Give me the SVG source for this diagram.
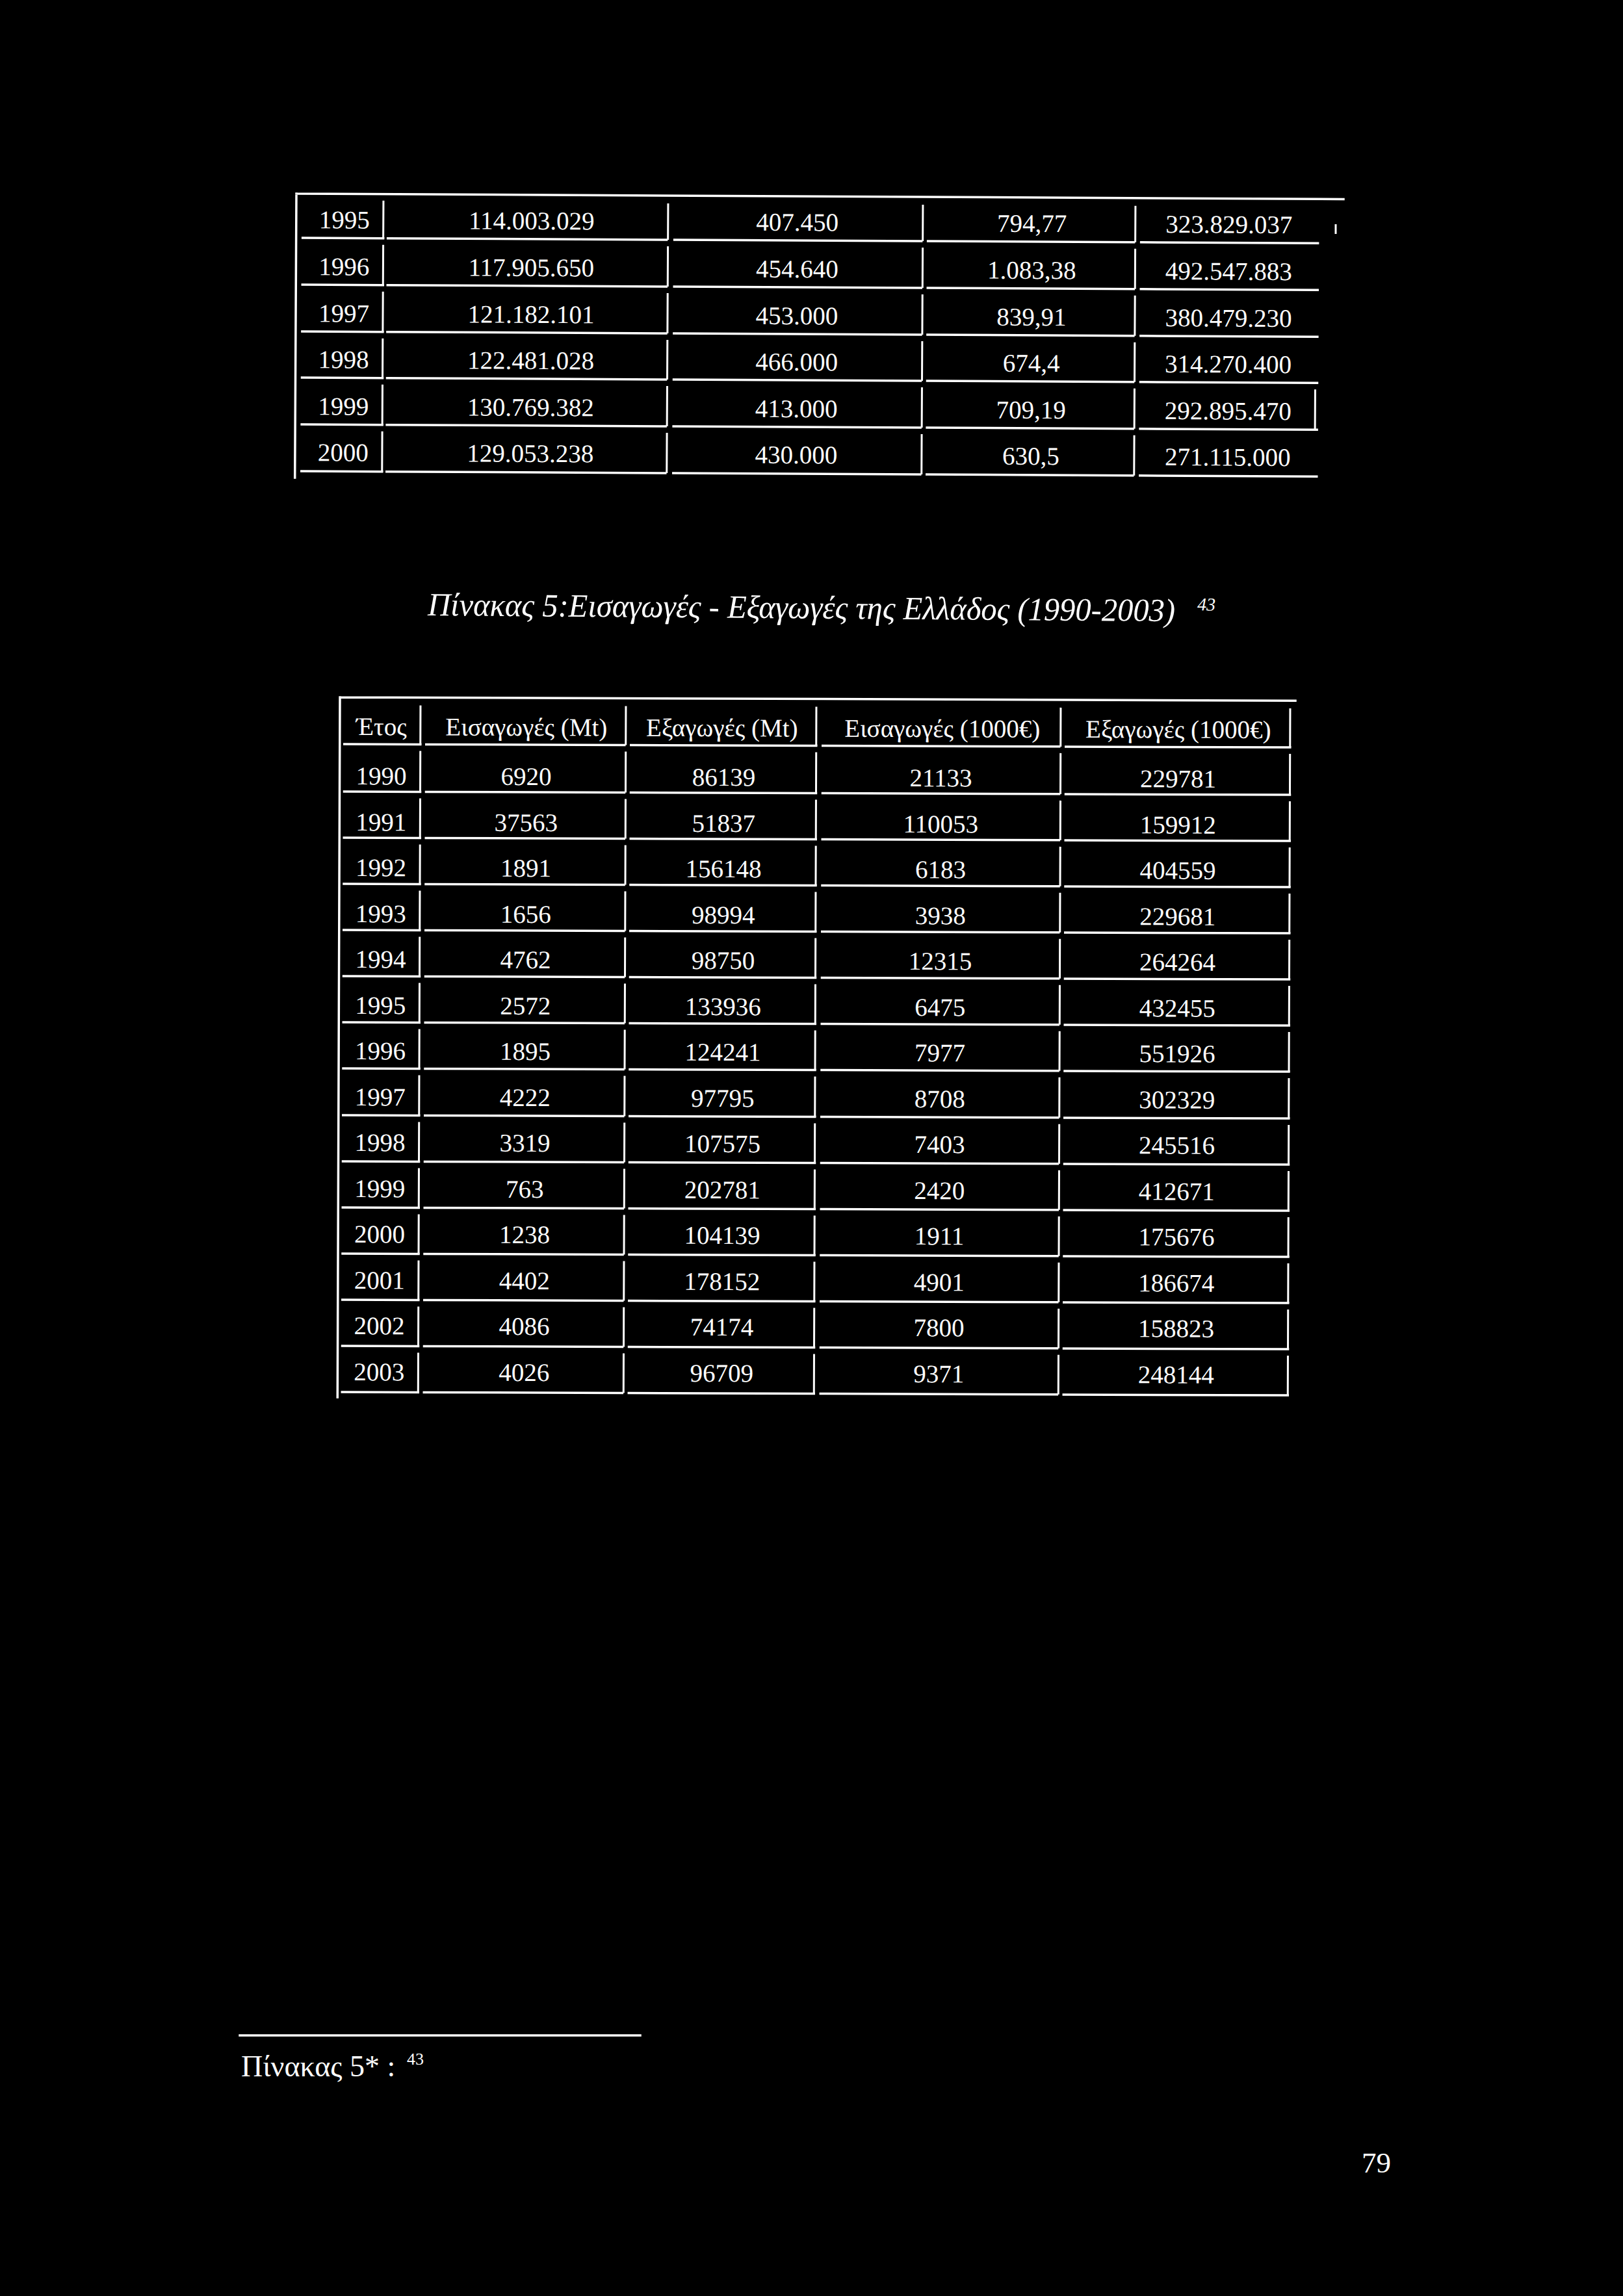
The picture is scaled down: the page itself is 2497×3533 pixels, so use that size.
<svg xmlns="http://www.w3.org/2000/svg" width="2497" height="3533" viewBox="0 0 2497 3533">
<style>
.t{font-family:"Liberation Serif","Times New Roman",serif;fill:#fff;font-size:39px;text-anchor:middle}
.ln{stroke:#fff;stroke-width:3.5;fill:none;stroke-linecap:square}
.vl{stroke:#fff;stroke-width:3;fill:none}
.it{font-family:"Liberation Serif","Times New Roman",serif;fill:#fff;font-style:italic}
.ft{font-family:"Liberation Serif","Times New Roman",serif;fill:#fff}
</style>
<rect x="0" y="0" width="2497" height="3533" fill="#000"/>

<g id="table1" transform="rotate(0.3 456 298)">
<g id="table1-lines">
<path class="ln" d="M456 298H2067M456 298V735"/>
<path class="vl" d="M590 308V366M1028 310V366M1420 310V366M1747 310V366"/>
<path class="ln" d="M466 366H590M597 366H1026M1038 366H1418M1428 366H1745M1756 366H2028"/>
<path class="vl" d="M590 376V438M1028 376V438M1420 376V438M1747 376V438"/>
<path class="ln" d="M466 438H590M597 438H1026M1038 438H1418M1428 438H1745M1756 438H2028"/>
<path class="vl" d="M590 448V510M1028 448V510M1420 448V510M1747 448V510"/>
<path class="ln" d="M466 510H590M597 510H1026M1038 510H1418M1428 510H1745M1756 510H2028"/>
<path class="vl" d="M590 520V581M1028 520V581M1420 520V581M1747 520V581"/>
<path class="ln" d="M466 581H590M597 581H1026M1038 581H1418M1428 581H1745M1756 581H2028"/>
<path class="vl" d="M590 591V653M1028 591V653M1420 591V653M1747 591V653M2025 591V653"/>
<path class="ln" d="M466 653H590M597 653H1026M1038 653H1418M1428 653H1745M1756 653H2028"/>
<path class="vl" d="M590 663V725M1028 663V725M1420 663V725M1747 663V725"/>
<path class="ln" d="M466 725H590M597 725H1026M1038 725H1418M1428 725H1745M1756 725H2028"/>
</g>
<g id="table1-text" class="t">
<text x="530" y="351">1995</text><text x="818" y="351">114.003.029</text><text x="1227" y="351">407.450</text><text x="1588" y="351">794,77</text><text x="1891" y="351">323.829.037</text>
<text x="530" y="423">1996</text><text x="818" y="423">117.905.650</text><text x="1227" y="423">454.640</text><text x="1588" y="423">1.083,38</text><text x="1891" y="423">492.547.883</text>
<text x="530" y="495">1997</text><text x="818" y="495">121.182.101</text><text x="1227" y="495">453.000</text><text x="1588" y="495">839,91</text><text x="1891" y="495">380.479.230</text>
<text x="530" y="566">1998</text><text x="818" y="566">122.481.028</text><text x="1227" y="566">466.000</text><text x="1588" y="566">674,4</text><text x="1891" y="566">314.270.400</text>
<text x="530" y="638">1999</text><text x="818" y="638">130.769.382</text><text x="1227" y="638">413.000</text><text x="1588" y="638">709,19</text><text x="1891" y="638">292.895.470</text>
<text x="530" y="709">2000</text><text x="818" y="709">129.053.238</text><text x="1227" y="709">430.000</text><text x="1588" y="709">630,5</text><text x="1891" y="709">271.115.000</text>
</g>
</g>
<path class="vl" d="M2055 345V360" stroke-width="2.5"/>

<g id="title" transform="rotate(0.45 658 947)">
<text class="it" x="658" y="947" font-size="50" textLength="1150" lengthAdjust="spacingAndGlyphs">Πίνακας 5:Εισαγωγές - Εξαγωγές της Ελλάδος (1990-2003)</text>
<text class="it" x="1842" y="930" font-size="28">43</text>
</g>

<g id="table2" transform="rotate(0.2 523 1073)">
<g id="table2-lines">
<path class="ln" d="M523 1073H1993M523 1073V2150"/>
<path class="vl" d="M647 1085V1145M963 1085V1145M1256 1085V1145M1632 1085V1145M1985 1085V1145"/>
<path class="ln" d="M530 1145H647M656 1145H961M971 1145H1256M1266 1145H1630M1640 1145H1985"/>
<path class="vl" d="M647 1155V1218M963 1155V1218M1256 1155V1218M1632 1155V1218M1985 1155V1218"/>
<path class="ln" d="M530 1218H647M656 1218H961M971 1218H1256M1266 1218H1630M1640 1218H1985"/>
<path class="vl" d="M647 1228V1289M963 1228V1289M1256 1228V1289M1632 1228V1289M1985 1228V1289"/>
<path class="ln" d="M530 1289H647M656 1289H961M971 1289H1256M1266 1289H1630M1640 1289H1985"/>
<path class="vl" d="M647 1299V1360M963 1299V1360M1256 1299V1360M1632 1299V1360M1985 1299V1360"/>
<path class="ln" d="M530 1360H647M656 1360H961M971 1360H1256M1266 1360H1630M1640 1360H1985"/>
<path class="vl" d="M647 1370V1431M963 1370V1431M1256 1370V1431M1632 1370V1431M1985 1370V1431"/>
<path class="ln" d="M530 1431H647M656 1431H961M971 1431H1256M1266 1431H1630M1640 1431H1985"/>
<path class="vl" d="M647 1441V1502M963 1441V1502M1256 1441V1502M1632 1441V1502M1985 1441V1502"/>
<path class="ln" d="M530 1502H647M656 1502H961M971 1502H1256M1266 1502H1630M1640 1502H1985"/>
<path class="vl" d="M647 1512V1573M963 1512V1573M1256 1512V1573M1632 1512V1573M1985 1512V1573"/>
<path class="ln" d="M530 1573H647M656 1573H961M971 1573H1256M1266 1573H1630M1640 1573H1985"/>
<path class="vl" d="M647 1583V1644M963 1583V1644M1256 1583V1644M1632 1583V1644M1985 1583V1644"/>
<path class="ln" d="M530 1644H647M656 1644H961M971 1644H1256M1266 1644H1630M1640 1644H1985"/>
<path class="vl" d="M647 1654V1716M963 1654V1716M1256 1654V1716M1632 1654V1716M1985 1654V1716"/>
<path class="ln" d="M530 1716H647M656 1716H961M971 1716H1256M1266 1716H1630M1640 1716H1985"/>
<path class="vl" d="M647 1726V1787M963 1726V1787M1256 1726V1787M1632 1726V1787M1985 1726V1787"/>
<path class="ln" d="M530 1787H647M656 1787H961M971 1787H1256M1266 1787H1630M1640 1787H1985"/>
<path class="vl" d="M647 1797V1858M963 1797V1858M1256 1797V1858M1632 1797V1858M1985 1797V1858"/>
<path class="ln" d="M530 1858H647M656 1858H961M971 1858H1256M1266 1858H1630M1640 1858H1985"/>
<path class="vl" d="M647 1868V1929M963 1868V1929M1256 1868V1929M1632 1868V1929M1985 1868V1929"/>
<path class="ln" d="M530 1929H647M656 1929H961M971 1929H1256M1266 1929H1630M1640 1929H1985"/>
<path class="vl" d="M647 1939V2000M963 1939V2000M1256 1939V2000M1632 1939V2000M1985 1939V2000"/>
<path class="ln" d="M530 2000H647M656 2000H961M971 2000H1256M1266 2000H1630M1640 2000H1985"/>
<path class="vl" d="M647 2010V2071M963 2010V2071M1256 2010V2071M1632 2010V2071M1985 2010V2071"/>
<path class="ln" d="M530 2071H647M656 2071H961M971 2071H1256M1266 2071H1630M1640 2071H1985"/>
<path class="vl" d="M647 2081V2142M963 2081V2142M1256 2081V2142M1632 2081V2142M1985 2081V2142"/>
<path class="ln" d="M530 2142H647M656 2142H961M971 2142H1256M1266 2142H1630M1640 2142H1985"/>
</g>
<g id="table2-text" class="t">
<text x="587" y="1131">Έτος</text><text x="810" y="1131">Εισαγωγές (Mt)</text><text x="1111" y="1131">Εξαγωγές (Mt)</text><text x="1450" y="1131">Εισαγωγές (1000€)</text><text x="1813" y="1131">Εξαγωγές (1000€)</text>
<text x="587" y="1207">1990</text><text x="810" y="1207">6920</text><text x="1114" y="1207">86139</text><text x="1448" y="1207">21133</text><text x="1813" y="1207">229781</text>
<text x="587" y="1278">1991</text><text x="810" y="1278">37563</text><text x="1114" y="1278">51837</text><text x="1448" y="1278">110053</text><text x="1813" y="1278">159912</text>
<text x="587" y="1348">1992</text><text x="810" y="1348">1891</text><text x="1114" y="1348">156148</text><text x="1448" y="1348">6183</text><text x="1813" y="1348">404559</text>
<text x="587" y="1419">1993</text><text x="810" y="1419">1656</text><text x="1114" y="1419">98994</text><text x="1448" y="1419">3938</text><text x="1813" y="1419">229681</text>
<text x="587" y="1489">1994</text><text x="810" y="1489">4762</text><text x="1114" y="1489">98750</text><text x="1448" y="1489">12315</text><text x="1813" y="1489">264264</text>
<text x="587" y="1560">1995</text><text x="810" y="1560">2572</text><text x="1114" y="1560">133936</text><text x="1448" y="1560">6475</text><text x="1813" y="1560">432455</text>
<text x="587" y="1630">1996</text><text x="810" y="1630">1895</text><text x="1114" y="1630">124241</text><text x="1448" y="1630">7977</text><text x="1813" y="1630">551926</text>
<text x="587" y="1701">1997</text><text x="810" y="1701">4222</text><text x="1114" y="1701">97795</text><text x="1448" y="1701">8708</text><text x="1813" y="1701">302329</text>
<text x="587" y="1771">1998</text><text x="810" y="1771">3319</text><text x="1114" y="1771">107575</text><text x="1448" y="1771">7403</text><text x="1813" y="1771">245516</text>
<text x="587" y="1842">1999</text><text x="810" y="1842">763</text><text x="1114" y="1842">202781</text><text x="1448" y="1842">2420</text><text x="1813" y="1842">412671</text>
<text x="587" y="1912">2000</text><text x="810" y="1912">1238</text><text x="1114" y="1912">104139</text><text x="1448" y="1912">1911</text><text x="1813" y="1912">175676</text>
<text x="587" y="1983">2001</text><text x="810" y="1983">4402</text><text x="1114" y="1983">178152</text><text x="1448" y="1983">4901</text><text x="1813" y="1983">186674</text>
<text x="587" y="2053">2002</text><text x="810" y="2053">4086</text><text x="1114" y="2053">74174</text><text x="1448" y="2053">7800</text><text x="1813" y="2053">158823</text>
<text x="587" y="2124">2003</text><text x="810" y="2124">4026</text><text x="1114" y="2124">96709</text><text x="1448" y="2124">9371</text><text x="1813" y="2124">248144</text>
</g>
</g>

<g id="footnote">
<path class="ln" d="M369 3132H985" stroke-width="3"/>
<text class="ft" x="371" y="3195" font-size="46">Πίνακας 5* :</text>
<text class="ft" x="626" y="3177" font-size="26">43</text>
</g>

<g id="page-number">
<text class="ft" x="2095" y="3343" font-size="45">79</text>
</g>
</svg>
